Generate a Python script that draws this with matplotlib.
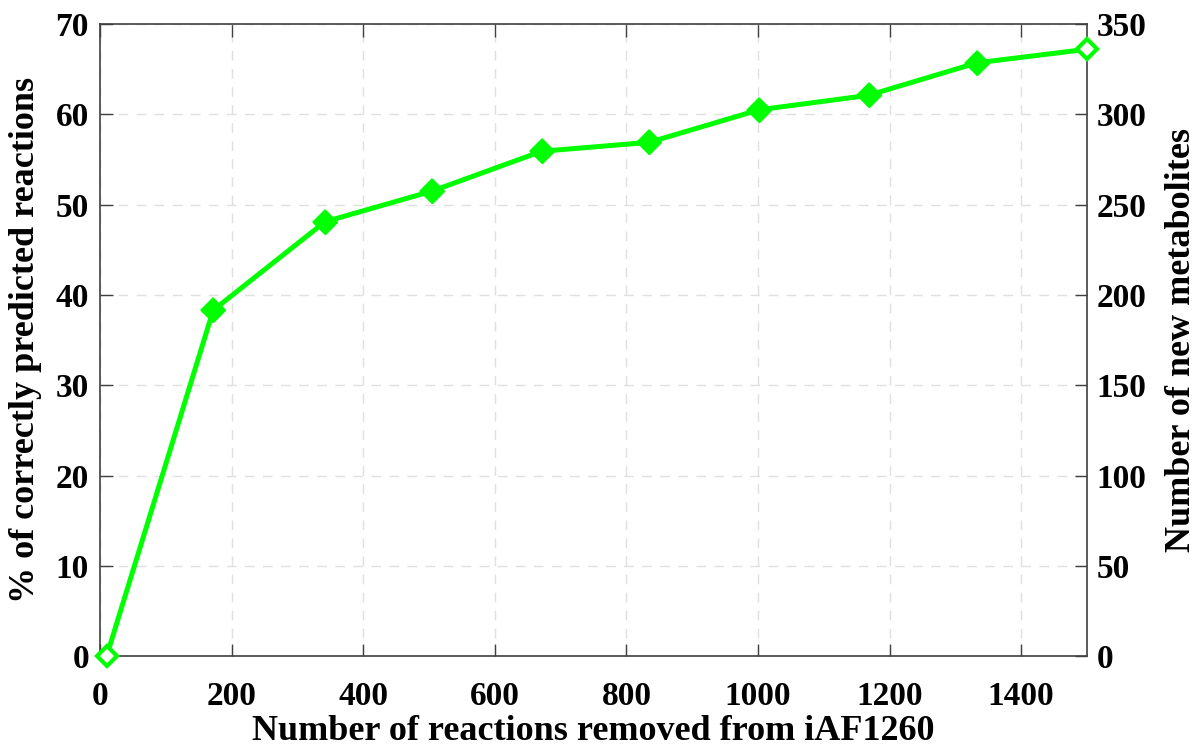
import matplotlib
matplotlib.use("Agg")
import matplotlib.pyplot as plt

# reactions removed vs. % of removed reactions recovered by gap filling
removed = [10, 172, 342, 505, 671, 835, 1002, 1168, 1333, 1500]
pct_correct = [0.0, 38.3, 48.1, 51.5, 55.9, 56.9, 60.5, 62.1, 65.7, 67.2]

x_ticks = [0, 200, 400, 600, 800, 1000, 1200, 1400]
left_ticks = [0, 10, 20, 30, 40, 50, 60, 70]
right_ticks = [0, 50, 100, 150, 200, 250, 300, 350]

GREEN = "#00ff00"
AX_COL = "#404040"

plt.rcParams["font.family"] = ["Liberation Serif", "DejaVu Serif"]
plt.rcParams["font.weight"] = "bold"

fig = plt.figure(figsize=(11.98, 7.49), dpi=100)
ax = fig.add_axes([0.0835, 0.124, 0.8238, 0.844])

ax.plot(removed, pct_correct, "-D", color=GREEN, lw=3.6, ms=10,
        mfc="white", mec=GREEN, mew=3, clip_on=False, zorder=5)
# interior points drawn solid
ax.plot(removed[1:-1], pct_correct[1:-1], "D", color=GREEN, ms=12,
        clip_on=False, zorder=6)

ax.set_xlim(0, 1500)
ax.set_ylim(0, 70)
ax.set_xticks(x_ticks)
ax.set_yticks(left_ticks)
ax.grid(True, ls=(0, (7, 6)), color="#e0e0e0", lw=1.0)

ax.tick_params(direction="in", length=9, width=1, colors=AX_COL,
               labelcolor="black", labelsize=24, top=True)
ax.tick_params(axis="x", pad=18)
ax.tick_params(axis="y", pad=8)
for s in ax.spines.values():
    s.set_color(AX_COL)
    s.set_linewidth(1.2)

ax.set_xlabel("Number of reactions removed from iAF1260", fontsize=26,
              fontweight="bold", labelpad=2)
ax.set_ylabel("% of correctly predicted reactions", fontsize=26,
              fontweight="bold", labelpad=10)

ax2 = ax.twinx()
ax2.set_ylim(0, 350)
ax2.set_yticks(right_ticks)
ax2.tick_params(direction="in", length=9, width=1, colors=AX_COL,
                labelcolor="black", labelsize=24, pad=7)
ax2.set_ylabel("Number of new metabolites", fontsize=26, fontweight="bold",
               labelpad=13)
for s in ax2.spines.values():
    s.set_visible(False)

fig.savefig("out.png", dpi=100)
